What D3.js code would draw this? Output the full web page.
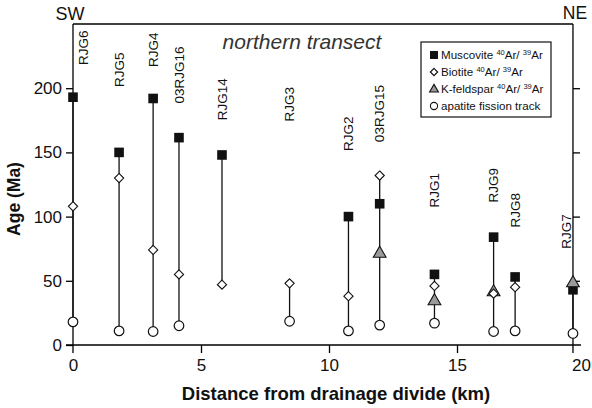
<!DOCTYPE html>
<html>
<head>
<meta charset="utf-8">
<script src="https://cdn.jsdelivr.net/npm/d3@7"></script>
<style>
  body { margin: 0; background: #fff; }
  svg { font-family: "Liberation Sans", Arial, sans-serif; }
</style>
</head>
<body>
<svg width="592" height="408"></svg>
<script>
// Samples along the northern transect
var samples = ["RJG6", "RJG5", "RJG4", "03RJG16", "RJG14", "RJG3", "RJG2", "03RJG15", "RJG1", "RJG9", "RJG8", "RJG7"];
var distance = [0, 1.8, 3.13, 4.14, 5.82, 8.46, 10.76, 11.98, 14.12, 16.43, 17.27, 19.53];

// Ages (Ma) per method, null where not measured
var muscovite = [193, 150, 192, 161.5, 148, null, 100, 110, 55, 84, 53, 43];
var biotite   = [108, 130, 74, 55, 47, 48, 38, 132, 46, 40, 45, null];
var kfeldspar = [null, null, null, null, null, null, null, 72, 35, 42, null, 49];
var apatite   = [18, 11, 10.5, 15, null, 18.5, 11, 15.5, 17, 10.5, 11, 9];

// Height (Ma) where each sample name sits
var labelAge = [218, 201, 216.5, 188, 175, 174, 151, 158, 107, 111, 91.5, 75];

var xTicks = [0, 5, 10, 15, 20];
var yTicks = [0, 50, 100, 150, 200];

var svg = d3.select("svg");
var x = d3.scaleLinear().domain([0, 20]).range([73, 585]);
var y = d3.scaleLinear().domain([0, 250]).range([345, 24]);
var xRight = x(distance[distance.length - 1]);

var rows = samples.map(function(s, i) {
  return {name: s, d: distance[i], mus: muscovite[i], bio: biotite[i],
          kf: kfeldspar[i], ap: apatite[i], lab: labelAge[i]};
});

// Frame
svg.append("line").attr("x1", x(0)).attr("x2", xRight).attr("y1", y(250)).attr("y2", y(250))
  .attr("stroke", "#000").attr("stroke-width", 1.3);
svg.append("line").attr("x1", x(0)).attr("x2", x(0)).attr("y1", y(250)).attr("y2", y(0) + 8)
  .attr("stroke", "#000").attr("stroke-width", 1.3);
svg.append("line").attr("x1", xRight).attr("x2", xRight).attr("y1", y(250)).attr("y2", y(0) + 8)
  .attr("stroke", "#000").attr("stroke-width", 1.3);
svg.append("line").attr("x1", x(0) - 7).attr("x2", xRight + 8).attr("y1", y(0)).attr("y2", y(0))
  .attr("stroke", "#000").attr("stroke-width", 1.3);

// Axes
var xAxis = svg.append("g").attr("transform", "translate(0," + y(0) + ")")
  .call(d3.axisBottom(x).tickValues(xTicks).tickSize(8).tickSizeOuter(0).tickPadding(6));
xAxis.select(".domain").remove();
xAxis.selectAll(".tick").filter(function(d) { return d == 20 || d == 0; }).select("line").remove();
// last label sits at the right frame edge, as in the original
xAxis.selectAll(".tick").filter(function(d) { return d == 20; })
  .attr("transform", "translate(" + (xRight - 1) + ",0)")
  .select("text").attr("text-anchor", "start");

var yAxis = svg.append("g").attr("transform", "translate(" + x(0) + ",0)")
  .call(d3.axisLeft(y).tickValues(yTicks).tickSize(7).tickSizeOuter(0).tickPadding(4));
yAxis.select(".domain").remove();

var rAxis = svg.append("g").attr("transform", "translate(" + xRight + ",0)")
  .call(d3.axisRight(y).tickValues(yTicks.slice(1)).tickSize(7).tickFormat(""));
rAxis.select(".domain").remove();

svg.selectAll(".tick line").attr("stroke", "#000").attr("stroke-width", 1.3);
svg.selectAll(".tick text").attr("font-size", 17).attr("fill", "#111")
  .attr("font-family", "'Liberation Sans', Arial, sans-serif");

// Axis titles
svg.append("text").attr("x", 336).attr("y", 400).attr("text-anchor", "middle")
  .attr("font-size", 18.5).attr("font-weight", "bold").attr("fill", "#111")
  .text("Distance from drainage divide (km)");
svg.append("text").attr("transform", "translate(20,199) rotate(-90)").attr("text-anchor", "middle")
  .attr("font-size", 17.5).attr("font-weight", "bold").attr("fill", "#111")
  .text("Age (Ma)");

svg.append("text").attr("x", 70).attr("y", 20).attr("text-anchor", "middle")
  .attr("font-size", 18).attr("fill", "#111").text("SW");
svg.append("text").attr("x", 575).attr("y", 19).attr("text-anchor", "middle")
  .attr("font-size", 17.5).attr("fill", "#111").text("NE");

svg.append("text").attr("x", 302).attr("y", 49).attr("text-anchor", "middle")
  .attr("font-size", 21).attr("font-style", "italic").attr("fill", "#333")
  .text("northern transect");

// Vertical range lines
rows.forEach(function(r) {
  var vals = [r.mus, r.bio, r.kf, r.ap].filter(function(v) { return v != null; });
  svg.append("line")
    .attr("x1", x(r.d)).attr("x2", x(r.d))
    .attr("y1", y(d3.max(vals))).attr("y2", y(d3.min(vals)))
    .attr("stroke", "#111").attr("stroke-width", 1.3);
});

// Markers
svg.selectAll(".ap").data(rows.filter(function(r) { return r.ap != null; }))
  .enter().append("circle").attr("class", "ap")
  .attr("cx", function(d) { return x(d.d); })
  .attr("cy", function(d) { return y(d.ap); })
  .attr("r", 4.8).attr("fill", "#fff").attr("stroke", "#111").attr("stroke-width", 1.2);

svg.selectAll(".mus").data(rows.filter(function(r) { return r.mus != null; }))
  .enter().append("rect").attr("class", "mus")
  .attr("x", function(d) { return x(d.d) - 4.8; })
  .attr("y", function(d) { return y(d.mus) - 4.8; })
  .attr("width", 9.6).attr("height", 9.6).attr("fill", "#111");

svg.selectAll(".kf").data(rows.filter(function(r) { return r.kf != null; }))
  .enter().append("path").attr("class", "kf")
  .attr("d", d3.symbol().type(d3.symbolTriangle).size(70))
  .attr("transform", function(d) { return "translate(" + x(d.d) + "," + (y(d.kf) + 1) + ")"; })
  .attr("fill", "#9a9a9a").attr("stroke", "#111").attr("stroke-width", 1.1);

svg.selectAll(".bio").data(rows.filter(function(r) { return r.bio != null; }))
  .enter().append("path").attr("class", "bio")
  .attr("d", "M0,-4.6L4.6,0L0,4.6L-4.6,0Z")
  .attr("transform", function(d) { return "translate(" + x(d.d) + "," + y(d.bio) + ")"; })
  .attr("fill", "#fff").attr("stroke", "#111").attr("stroke-width", 1.1);

// Sample labels
var labelShift = {"RJG6": 10, "RJG7": -7};
svg.selectAll(".lab").data(rows).enter().append("text").attr("class", "lab")
  .attr("transform", function(d) {
    var cx = x(d.d) + (labelShift[d.name] || 0) + 4.8;
    return "translate(" + cx + "," + y(d.lab) + ") rotate(-90)";
  })
  .attr("font-size", 13.5).attr("fill", "#111")
  .text(function(d) { return d.name; });

// Legend
var lg = svg.append("g").attr("transform", "translate(421,42)");
lg.append("rect").attr("width", 130).attr("height", 75)
  .attr("fill", "#fff").attr("stroke", "#111").attr("stroke-width", 1.2);
var items = [
  {kind: "mus", text: "Muscovite ", iso: true},
  {kind: "bio", text: "Biotite ", iso: true},
  {kind: "kf", text: "K-feldspar ", iso: true},
  {kind: "ap", text: "apatite fission track", iso: false}
];
items.forEach(function(it, i) {
  var cy = 13 + i * 17;
  var g = lg.append("g").attr("transform", "translate(13," + cy + ")");
  if (it.kind == "mus") {
    g.append("rect").attr("x", -4).attr("y", -4).attr("width", 8).attr("height", 8).attr("fill", "#111");
  } else if (it.kind == "bio") {
    g.append("path").attr("d", "M0,-3.6L3.6,0L0,3.6L-3.6,0Z")
      .attr("fill", "#fff").attr("stroke", "#111").attr("stroke-width", 1.2);
  } else if (it.kind == "kf") {
    g.append("path").attr("d", d3.symbol().type(d3.symbolTriangle).size(34))
      .attr("transform", "translate(0,0.5)")
      .attr("fill", "#9a9a9a").attr("stroke", "#111").attr("stroke-width", 1.1);
  } else {
    g.append("circle").attr("r", 3.6).attr("fill", "#fff").attr("stroke", "#111").attr("stroke-width", 1.1);
  }
  var t = g.append("text").attr("x", 7).attr("y", 4.2).attr("font-size", 11.6).attr("fill", "#111");
  t.append("tspan").text(it.text);
  if (it.iso) {
    t.append("tspan").attr("font-size", 7.5).attr("dy", -4.5).text("40");
    t.append("tspan").attr("dy", 4.5).text("Ar/ ");
    t.append("tspan").attr("font-size", 7.5).attr("dy", -4.5).text("39");
    t.append("tspan").attr("dy", 4.5).text("Ar");
  }
});
</script>
</body>
</html>
